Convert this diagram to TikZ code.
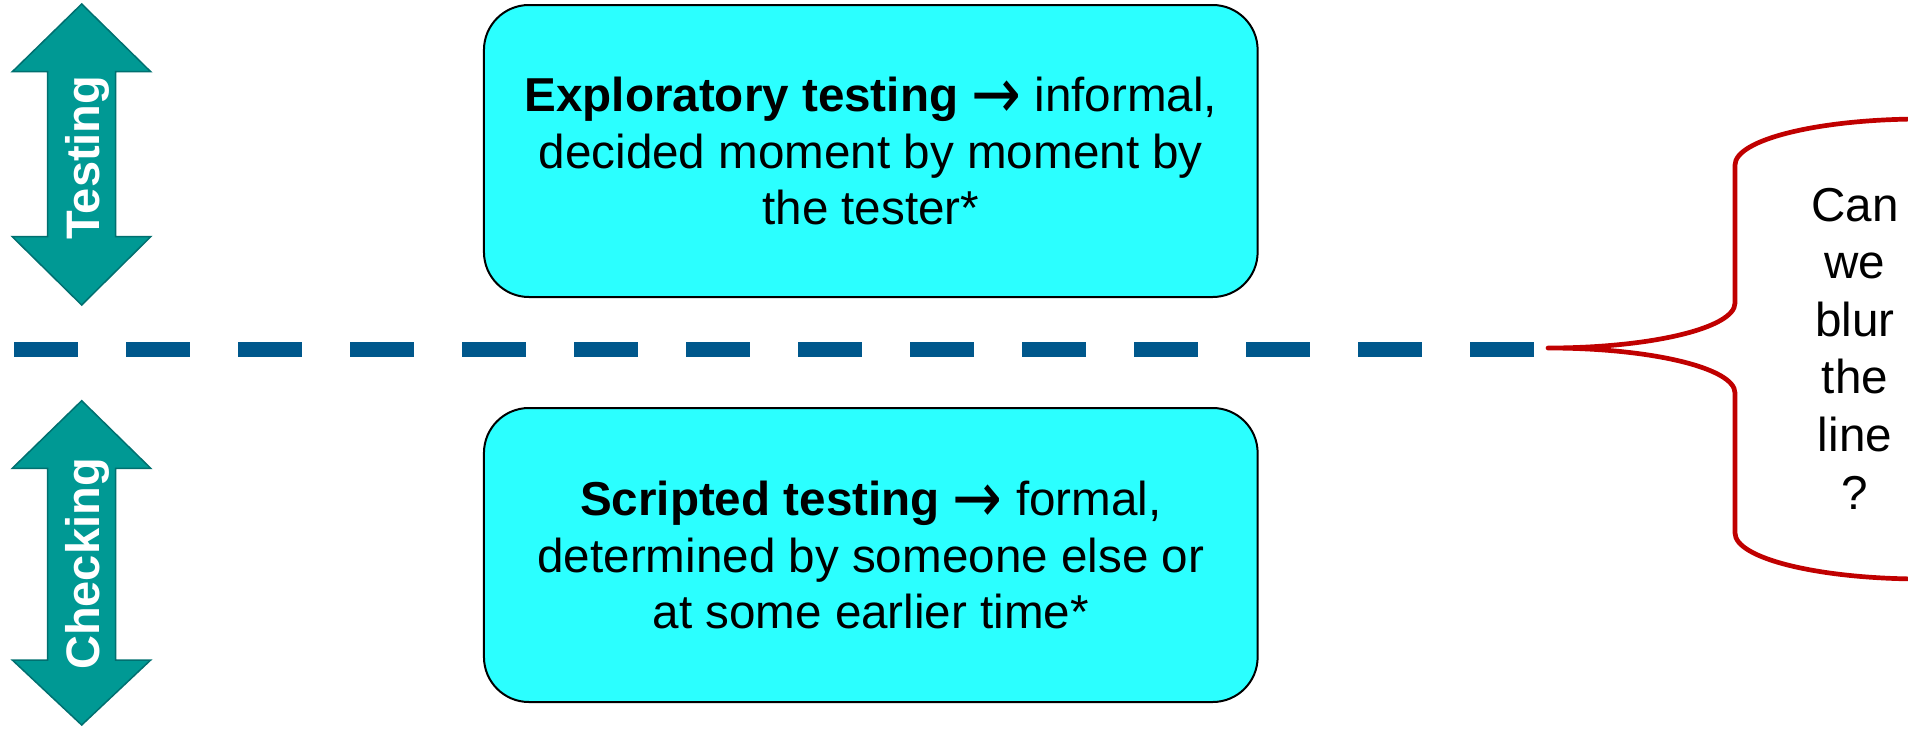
\documentclass[tikz,border=0pt]{standalone}
\usepackage{fontspec}
\setmainfont{Liberation Sans}
\newfontfamily\arrowfont{DejaVu Sans}
\newcommand{\goesto}{\raisebox{-0.14em}{\scalebox{1.25}[1.5]{\arrowfont →}}}
\definecolor{tealfill}{RGB}{0,153,148}
\definecolor{tealedge}{RGB}{0,112,112}
\definecolor{cyanfill}{RGB}{43,255,255}
\definecolor{dashblue}{RGB}{0,88,140}
\definecolor{bracered}{RGB}{192,0,0}
\begin{document}
\begin{tikzpicture}[x=0.5pt,y=-0.5pt,
  updown/.style={fill=tealfill, draw=tealedge, line width=0.75pt, line join=miter},
  arrowlabel/.style={rotate=90, anchor=base, text=white, inner sep=0pt,
    font=\fontsize{23.5}{28}\selectfont\bfseries},
  card/.style={draw=black, line width=1pt, fill=cyanfill, rounded corners=22.5pt,
    minimum width=386.85pt, align=center, inner sep=0pt,
    font=\fontsize{23.8}{28.25}\selectfont},
  divider/.style={draw=dashblue, line width=7.5pt, dash pattern=on 32pt off 24pt},
  bracestroke/.style={draw=bracered, line width=2.35pt, line join=round},
  question/.style={align=center, inner sep=0pt, font=\fontsize{23.8}{28.8}\selectfont}
]
\useasboundingbox (0,0) rectangle (1908,729);
\clip (0,0) rectangle (1908,729);

% double-headed arrow for "Testing"
\draw[updown] (81.7,4) -- (150.7,71.7) -- (115.7,71.7) -- (115.7,236.7) -- (150.7,236.7)
  -- (81.7,305) -- (12.3,236.7) -- (47.7,236.7) -- (47.7,71.7) -- (12.3,71.7) -- cycle;
\node[arrowlabel] (testing) at (99,157.5) {Testing};

% double-headed arrow for "Checking"
\draw[updown] (81.7,400.7) -- (150.7,468.3) -- (115.7,468.3) -- (115.7,660) -- (150.7,660)
  -- (81.7,725) -- (12.3,660) -- (47.7,660) -- (47.7,468.3) -- (12.3,468.3) -- cycle;
\node[arrowlabel] (checking) at (99,564) {Checking};

% the two kinds of testing
\node[card, minimum height=146pt] (explore) at (870.8,151)
  {\textbf{Exploratory testing} \goesto{} informal,\\decided moment by moment by\\the tester*};
\node[card, minimum height=147pt] (scripted) at (870.8,555)
  {\textbf{Scripted testing} \goesto{} formal,\\determined by someone else or\\at some earlier time*};

% dividing line
\coordinate (lineL) at (14,349);
\coordinate (lineR) at (1534,349);
\draw[divider] (lineL) -- (lineR);

% brace with the question
\coordinate (tip) at (1548,348);
\coordinate (topend) at (1922,119);
\coordinate (botend) at (1922,579);
\draw[bracestroke] (topend) .. controls (1818.7,119) and (1735,139.6) .. (1735,165)
  -- (1735,303) .. controls (1735,327.9) and (1651.3,348) .. (tip)
  .. controls (1651.3,348) and (1735,368.1) .. (1735,393)
  -- (1735,533) .. controls (1735,558.4) and (1818.7,579) .. (botend);
\node[question] (blur) at (1855,348.5) {Can\\we\\blur\\the\\line\\?};
\end{tikzpicture}
\end{document}
